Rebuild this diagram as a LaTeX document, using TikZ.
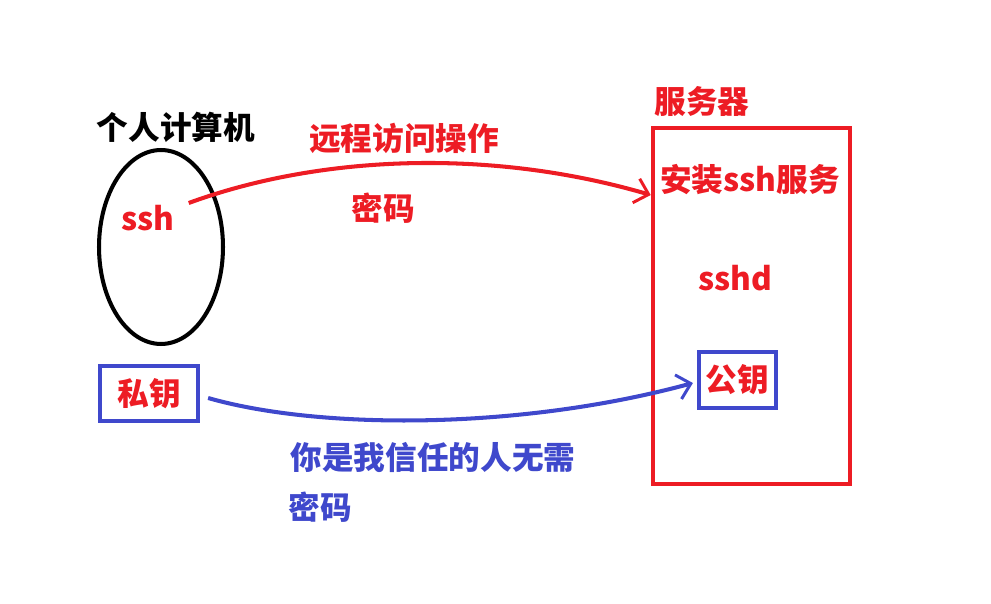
\documentclass[tikz,border=0pt]{standalone}
\usepackage{fontspec}
\setmainfont{Noto Sans CJK SC}
\usetikzlibrary{arrows.meta}
\definecolor{pred}{RGB}{237,28,36}
\definecolor{pblue}{RGB}{63,72,204}
\tikzset{
	txt/.style={font=\fontsize{18}{20}\selectfont\bfseries},
	keybox/.style={txt,draw=pblue,text=pred,line width=2.4pt},
	link/.style={line width=2.3pt,-{Straight Barb[length=0.26cm,width=0.5cm,line width=1.7pt]}}
}
\begin{document}
	\begin{tikzpicture}[x=0.02cm,y=-0.02cm]
	    \useasboundingbox(0,0) rectangle (991,604);
	    \draw[line width=2.3pt](161,247) ellipse[x radius=1.24cm,y radius=1.94cm];
	    \node[txt] (pc) at (176,127) {个人计算机};
	    \node[txt,pred] (ssh) at (148,218) {ssh};
	    \node[keybox,minimum width=1.96cm,minimum height=1.1cm] (priv) at (149,393.5) {私钥};
	    \node[draw=pred,line width=2.6pt,minimum width=3.94cm,minimum height=7.12cm] (server) at (751.5,306) {};
	    \node[txt,pred] (srvname) at (702,102) {服务器};
	    \node[txt,pred] (install) at (750,180) {安装ssh服务};
	    \node[txt,pred] (sshd) at (735,278) {sshd};
	    \node[keybox,minimum width=1.54cm,minimum height=1.12cm] (pub) at (737.5,380) {公钥};
	    \node[txt,pred] (remote) at (404,138) {远程访问操作};
	    \node[txt,pred] (pwd) at (383,208) {密码};
	    \node[txt,pblue] (trust) at (433,457) {你是我信任的人无需};
	    \node[txt,pblue] (nopwd) at (320,507) {密码};
	    \draw[link,pred]([shift={(8,-15)}]ssh.east) .. controls (320,155) and (490,148) .. ([shift={(0,-111)}]server.west);
	    \draw[link,pblue]([shift={(8,4.5)}]priv.east) .. controls (320,430) and (520,430) .. ([shift={(-4,3)}]pub.west);
	\end{tikzpicture}
\end{document}
